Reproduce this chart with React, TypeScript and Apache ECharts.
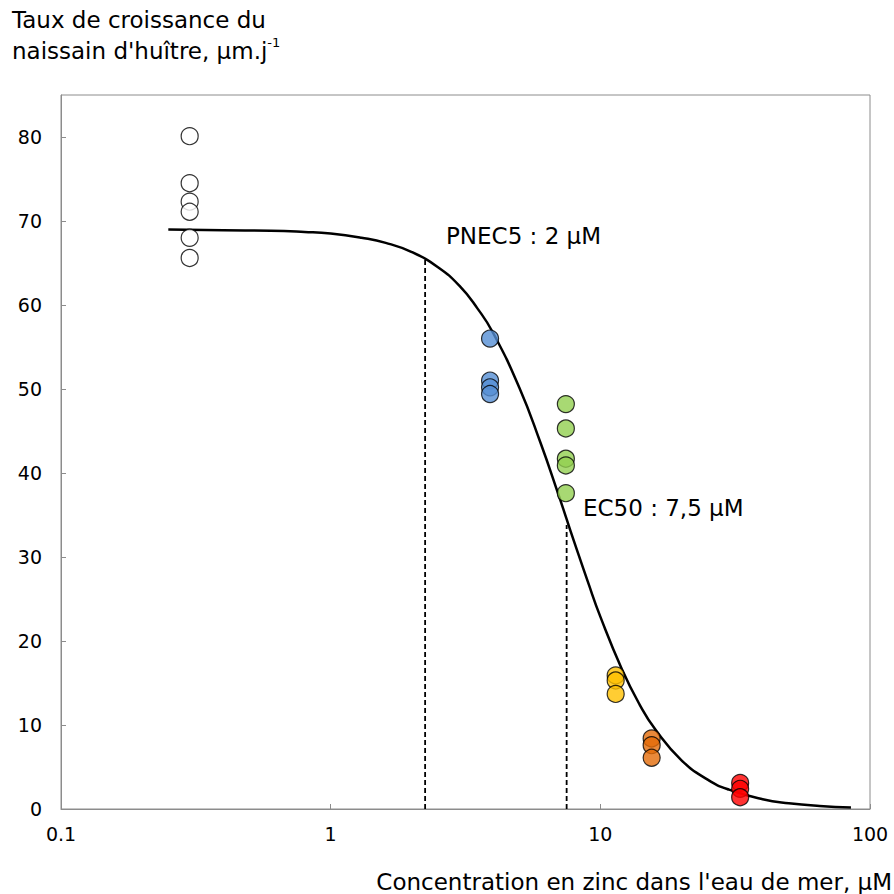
import React, { useEffect, useRef } from "react";
import * as echarts from "echarts";

// Fitted dose-response curve
const curveX = [0.25, 0.4, 0.6, 0.8, 1.0, 1.3, 1.6, 2.0, 2.5, 3.0, 3.5, 4.0, 5.0, 6.0, 7.0, 7.5, 8.0, 9.0, 10, 12, 14, 16, 20, 25, 30, 40, 50, 65, 85];
const curveY = [69.0, 68.9, 68.85, 68.7, 68.5, 68.0, 67.4, 66.3, 64.5, 62.3, 59.6, 56.7, 50.2, 43.6, 37.4, 34.5, 31.8, 27.0, 22.9, 16.7, 12.4, 9.45, 5.8, 3.5, 2.3, 1.16, 0.68, 0.36, 0.19];

// Observations (concentration, growth rate)
const ctrlX = 0.3;
const ctrlY = [80.1, 74.5, 72.3, 71.1, 68.0, 65.6];
const blueX = 3.9;
const blueY = [56.0, 51.0, 50.2, 49.4];
const greenX = 7.45;
const greenY = [48.2, 45.3, 41.7, 40.9, 37.6];
const yellowX = 11.4;
const yellowY = [15.9, 15.3, 13.7];
const orangeX = 15.5;
const orangeY = [8.4, 7.6, 6.1];
const redX = 33;
const redY = [3.1, 2.4, 1.4];

// Reference lines
const pnecX = 2.24;
const pnecY = 65.5;
const ec50X = 7.5;
const ec50Y = 33.8;

const xTicks = [0.1, 1, 10, 100];

const FONT = "DejaVu Sans";
const TITLE_SIZE = 23;

export default function App() {
  const ref = useRef<HTMLDivElement>(null);
  useEffect(() => {
    if (!ref.current) return;
    const chart = echarts.init(ref.current, null, { renderer: "svg" });
    const pts = (x: number, ys: number[]) => ys.map((y) => [x, y]);
    const scatter = (name: string, x: number, ys: number[], color: string) => ({
      name,
      type: "scatter",
      data: pts(x, ys),
      symbol: "circle",
      symbolSize: 17,
      itemStyle: { color, borderColor: "#000", borderWidth: 1.2 },
      z: 5,
    });
    chart.setOption({
      animation: false,
      backgroundColor: "#fff",
      textStyle: { fontFamily: FONT },
      grid: {
        left: 61,
        right: 24,
        top: 95,
        bottom: 85,
        show: true,
        borderColor: "#8c8c8c",
        borderWidth: 1,
      },
      xAxis: {
        type: "log",
        logBase: 10,
        min: 0.1,
        max: 100,
        axisLine: { lineStyle: { color: "#8c8c8c", width: 1 } },
        axisTick: { inside: true, length: 5, lineStyle: { color: "#8c8c8c" } },
        minorTick: { show: false },
        splitLine: { show: false },
        axisLabel: {
          color: "#000",
          fontSize: 19,
          fontFamily: FONT,
          margin: 15,
          formatter: (v: number) => {
            const t = xTicks.find((k) => Math.abs(k - v) < 1e-9 * Math.max(1, k));
            return t !== undefined ? String(t) : String(v);
          },
        },
      },
      yAxis: {
        type: "value",
        min: 0,
        max: 85,
        interval: 10,
        axisLine: { show: true, lineStyle: { color: "#8c8c8c", width: 1 } },
        axisTick: { show: true, inside: true, length: 5, lineStyle: { color: "#8c8c8c" } },
        splitLine: { show: false },
        axisLabel: {
          color: "#000",
          fontSize: 19,
          fontFamily: FONT,
          margin: 19,
          showMaxLabel: false,
        },
      },
      series: [
        {
          name: "curve",
          type: "line",
          data: curveX.map((x, i) => [x, curveY[i]]),
          symbol: "none",
          smooth: true,
          lineStyle: { color: "#000", width: 2.5 },
          z: 3,
        },
        {
          name: "pnec",
          type: "line",
          data: [[pnecX, 0], [pnecX, pnecY]],
          symbol: "none",
          lineStyle: { color: "#000", width: 1.8, type: [5, 3] },
          z: 2,
        },
        {
          name: "ec50",
          type: "line",
          data: [[ec50X, 0], [ec50X, ec50Y]],
          symbol: "none",
          lineStyle: { color: "#000", width: 1.8, type: [5, 3] },
          z: 2,
        },
        scatter("control", ctrlX, ctrlY, "#ffffff"),
        scatter("c1", blueX, blueY, "#558ed5"),
        scatter("c2", greenX, greenY, "#92d050"),
        scatter("c3", yellowX, yellowY, "#ffc000"),
        scatter("c4", orangeX, orangeY, "#e36c09"),
        scatter("c5", redX, redY, "#ff0000"),
      ],
      graphic: [
        {
          type: "text",
          left: 12,
          top: 8,
          style: { text: "Taux de croissance du", fontSize: TITLE_SIZE, fontFamily: FONT, fill: "#000" },
        },
        {
          type: "text",
          left: 12,
          top: 36,
          style: {
            text: "{a|naissain d'huître, µm.j}{s|-1}",
            fontFamily: FONT,
            fill: "#000",
            rich: {
              a: { fontSize: TITLE_SIZE, fontFamily: FONT, lineHeight: 30 },
              s: { fontSize: 13, fontFamily: FONT, verticalAlign: "top", lineHeight: 13, padding: [0, 0, 12, 0] },
            },
          },
        },
        {
          type: "text",
          left: 446,
          top: 224,
          style: { text: "PNEC5 : 2 µM", fontSize: TITLE_SIZE, fontFamily: FONT, fill: "#000" },
        },
        {
          type: "text",
          left: 583,
          top: 496,
          style: { text: "EC50 : 7,5 µM", fontSize: TITLE_SIZE, fontFamily: FONT, fill: "#000" },
        },
        {
          type: "text",
          right: 2,
          top: 870,
          style: { text: "Concentration en zinc dans l'eau de mer, µM", fontSize: TITLE_SIZE, fontFamily: FONT, fill: "#000" },
        },
      ],
    });
    return () => chart.dispose();
  }, []);
  return (
    <div
      ref={ref}
      style={{ position: "fixed", left: 0, top: 0, width: 894, height: 894, background: "#fff" }}
    />
  );
}
